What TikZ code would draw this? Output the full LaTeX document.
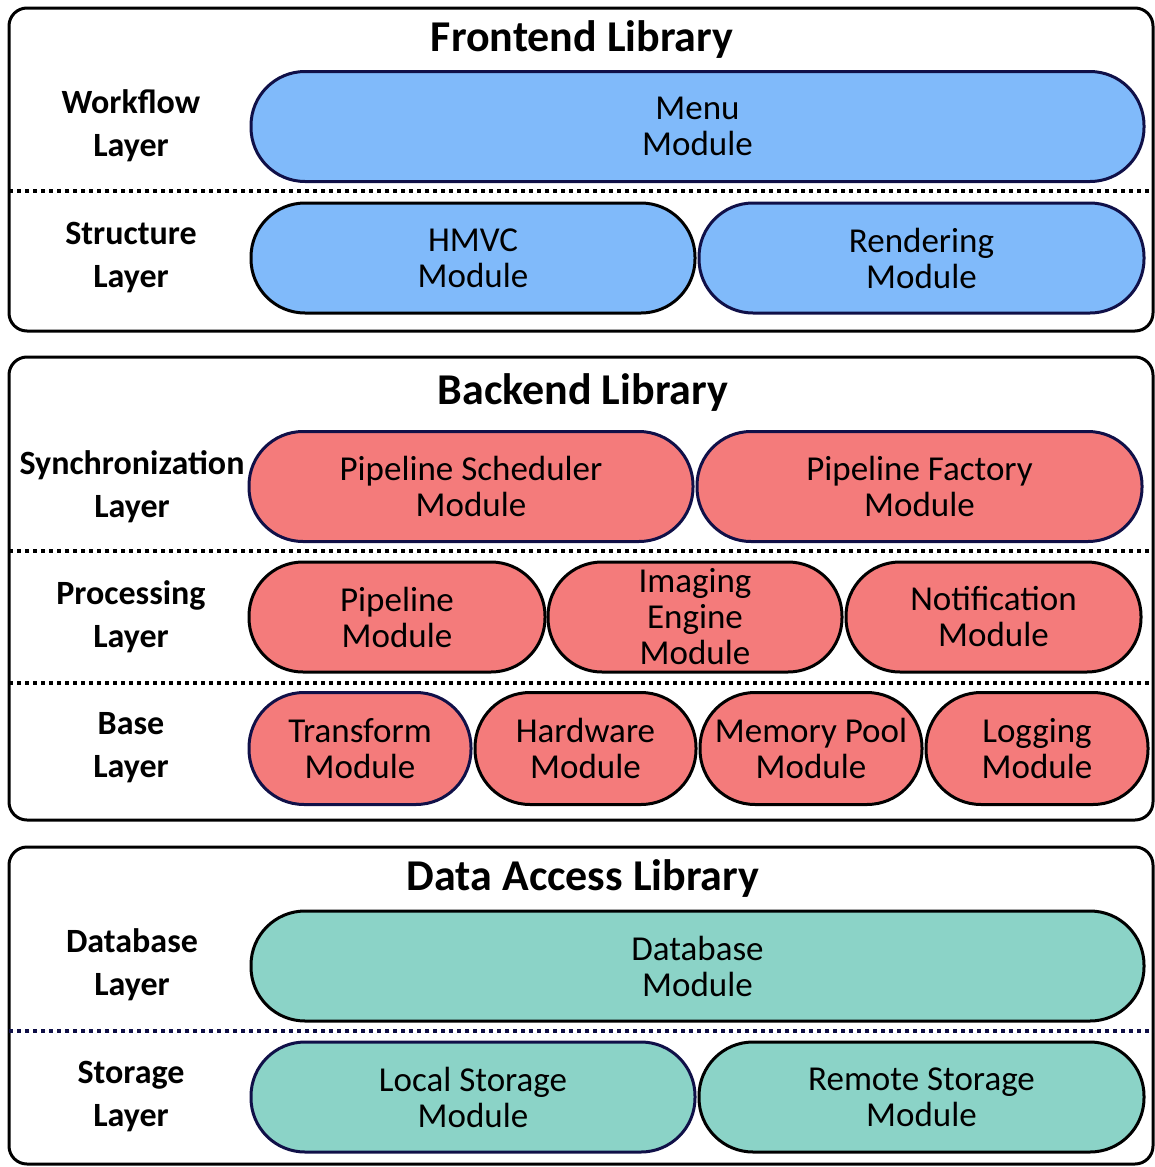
\documentclass[tikz,border=0pt]{standalone}
\usepackage{fontspec}
\setmainfont{Carlito}
\definecolor{navy}{RGB}{16,16,72}
\definecolor{feblue}{RGB}{128,186,250}
\definecolor{bered}{RGB}{244,123,123}
\definecolor{dateal}{RGB}{139,211,199}
\tikzset{
  libbox/.style={draw=black, line width=3pt, rounded corners=18pt},
  sep/.style={line width=3.6pt, dash pattern=on 4pt off 4pt},
  libtitle/.style={font=\fontsize{44}{46}\selectfont\bfseries, inner sep=0pt},
  layerlbl/.style={font=\fontsize{34}{43}\selectfont\bfseries, align=center, inner sep=0pt},
  mod/.style={draw=black, line width=3pt, rounded corners=54pt, align=center,
    font=\fontsize{35}{36}\selectfont, inner sep=0pt, minimum height=110pt},
  navyedge/.style={draw=navy},
}
\begin{document}
\begin{tikzpicture}[x=1pt,y=-1pt]
\useasboundingbox (0,0) rectangle (1155,1167);

% ---------- Frontend library ----------
\draw[libbox] (9,8) rectangle (1153,331);
\node[libtitle] (fetitle) at (582,40) {Frontend Library};
\node[layerlbl] (wfl) at (131,126) {Workflow\\Layer};
\node[layerlbl] (stl) at (131,258) {Structure\\Layer};
\node[mod, navyedge, fill=feblue, minimum width=893pt] (menu) at (697.5,126.5) {Menu\\Module};
\coordinate (fe-l) at (9,191);
\coordinate (fe-r) at (1153,191);
\draw[sep] (fe-l) -- (fe-r);
\node[mod, fill=feblue, minimum width=444pt] (hmvc) at (473,258) {HMVC\\Module};
\node[mod, navyedge, fill=feblue, minimum width=445pt] (render) at (921.5,258) {Rendering\\Module};

% ---------- Backend library ----------
\draw[libbox] (9,357) rectangle (1153,820);
\node[libtitle] (betitle) at (583,393) {Backend Library};
\node[layerlbl] (syl) at (132,487) {Synchronization\\Layer};
\node[layerlbl] (prl) at (131,617) {Processing\\Layer};
\node[layerlbl] (bal) at (131,748) {Base\\Layer};
\node[mod, navyedge, fill=bered, minimum width=444pt] (sched) at (471,486.5) {Pipeline Scheduler\\Module};
\node[mod, navyedge, fill=bered, minimum width=445pt] (factory) at (919.5,486.5) {Pipeline Factory\\Module};
\coordinate (be-l1) at (9,551);
\coordinate (be-r1) at (1153,551);
\draw[sep] (be-l1) -- (be-r1);
\node[mod, fill=bered, minimum width=296pt] (pipe) at (397,617) {Pipeline\\Module};
\node[mod, fill=bered, minimum width=294pt] (imaging) at (695,617) {Imaging\\Engine\\Module};
\node[mod, fill=bered, minimum width=295pt] (notif) at (993.5,617) {Notification\\Module};
\coordinate (be-l2) at (9,683);
\coordinate (be-r2) at (1153,683);
\draw[sep] (be-l2) -- (be-r2);
\node[mod, navyedge, fill=bered, minimum width=222pt, minimum height=112pt, rounded corners=55pt] (transform) at (360,748.5) {Transform\\Module};
\node[mod, fill=bered, minimum width=221pt, minimum height=112pt, rounded corners=55pt] (hardware) at (585.5,748.5) {Hardware\\Module};
\node[mod, fill=bered, minimum width=222pt, minimum height=112pt, rounded corners=55pt] (mempool) at (811,748.5) {Memory Pool\\Module};
\node[mod, fill=bered, minimum width=222pt, minimum height=112pt, rounded corners=55pt] (logging) at (1037,748.5) {Logging\\Module};

% ---------- Data access library ----------
\draw[libbox] (9,847) rectangle (1153,1164);
\node[libtitle] (datitle) at (583,879) {Data Access Library};
\node[layerlbl] (dbl) at (132,965) {Database\\Layer};
\node[layerlbl] (sgl) at (131,1097) {Storage\\Layer};
\node[mod, fill=dateal, minimum width=893pt] (database) at (697.5,966) {Database\\Module};
\coordinate (da-l) at (9,1031);
\coordinate (da-r) at (1153,1031);
\draw[sep, navy] (da-l) -- (da-r);
\node[mod, navyedge, fill=dateal, minimum width=444pt] (local) at (473,1097) {Local Storage\\Module};
\node[mod, fill=dateal, minimum width=445pt] (remote) at (921.5,1097) {Remote Storage\\Module};
\end{tikzpicture}
\end{document}
